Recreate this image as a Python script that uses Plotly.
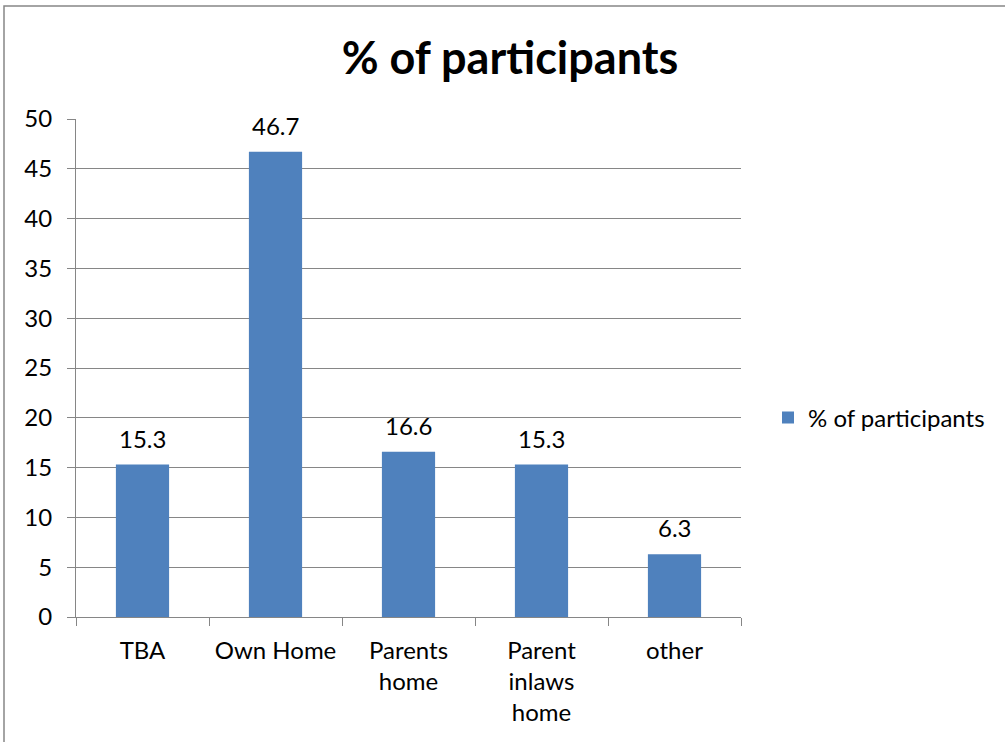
import plotly.graph_objects as go

categories = ["TBA", "Own Home", "Parents<br>home", "Parent<br>inlaws<br>home", "other"]
values = [15.3, 46.7, 16.6, 15.3, 6.3]
series_name = "% of participants"
y_ticks = [0, 5, 10, 15, 20, 25, 30, 35, 40, 45, 50]

BAR_COLOR = "#4F81BD"
GRID = "#868686"
FONT = "Lato"
TXT = 24

# plot-area pixel geometry
W, H = 1005, 742
L, R, T, B = 76, 264, 119, 125
pw, ph = W - L - R, H - T - B

fig = go.Figure()
fig.add_trace(go.Bar(
    x=categories, y=values, name=series_name,
    marker=dict(color=BAR_COLOR, line=dict(width=0)),
    width=0.4, showlegend=True,
))

for c, v in zip(categories, values):
    fig.add_annotation(
        x=c, y=v, text=f"{v:.1f}", showarrow=False,
        yanchor="bottom", yshift=10,
        font=dict(family=FONT, size=TXT, color="#000000"),
    )

def px_x(p):
    return (p - L) / pw

def px_y(p):
    return 1 - (p - T) / ph

# outer chart frame
fig.add_shape(type="rect", xref="paper", yref="paper",
              x0=px_x(4), x1=px_x(1020), y0=px_y(770), y1=px_y(6),
              line=dict(color="#878787", width=1.5), fillcolor="rgba(0,0,0,0)",
              layer="below")

fig.update_layout(
    width=W, height=H,
    margin=dict(l=L, r=R, t=T, b=B, pad=0),
    paper_bgcolor="white", plot_bgcolor="white",
    bargap=0.6,
    title=dict(text="<b>% of participants</b>", xref="container", x=510 / W,
               xanchor="center", yref="container", y=1 - 58 / H, yanchor="middle",
               font=dict(family=FONT, size=45, color="#000000")),
    font=dict(family=FONT, size=TXT, color="#000000"),
    legend=dict(x=px_x(768), y=px_y(418), xanchor="left", yanchor="middle",
                font=dict(family=FONT, size=TXT, color="#000000"),
                bgcolor="rgba(0,0,0,0)", itemwidth=30),
    xaxis=dict(
        type="category", showgrid=False,
        showline=True, linecolor=GRID, linewidth=1,
        ticks="outside", tickson="boundaries", ticklen=8, tickcolor=GRID,
        ticklabelstandoff=12,
        tickfont=dict(family=FONT, size=TXT, color="#000000"),
        range=[-0.5, 4.5],
    ),
    yaxis=dict(
        range=[0, 50], tickvals=y_ticks, ticktext=[str(t) for t in y_ticks],
        showgrid=True, gridcolor=GRID, gridwidth=1,
        showline=True, linecolor=GRID, linewidth=1,
        ticks="outside", ticklen=8, tickcolor=GRID,
        ticklabelstandoff=10,
        zeroline=False,
        tickfont=dict(family=FONT, size=TXT, color="#000000"),
    ),
)

fig.write_html("out.html")
